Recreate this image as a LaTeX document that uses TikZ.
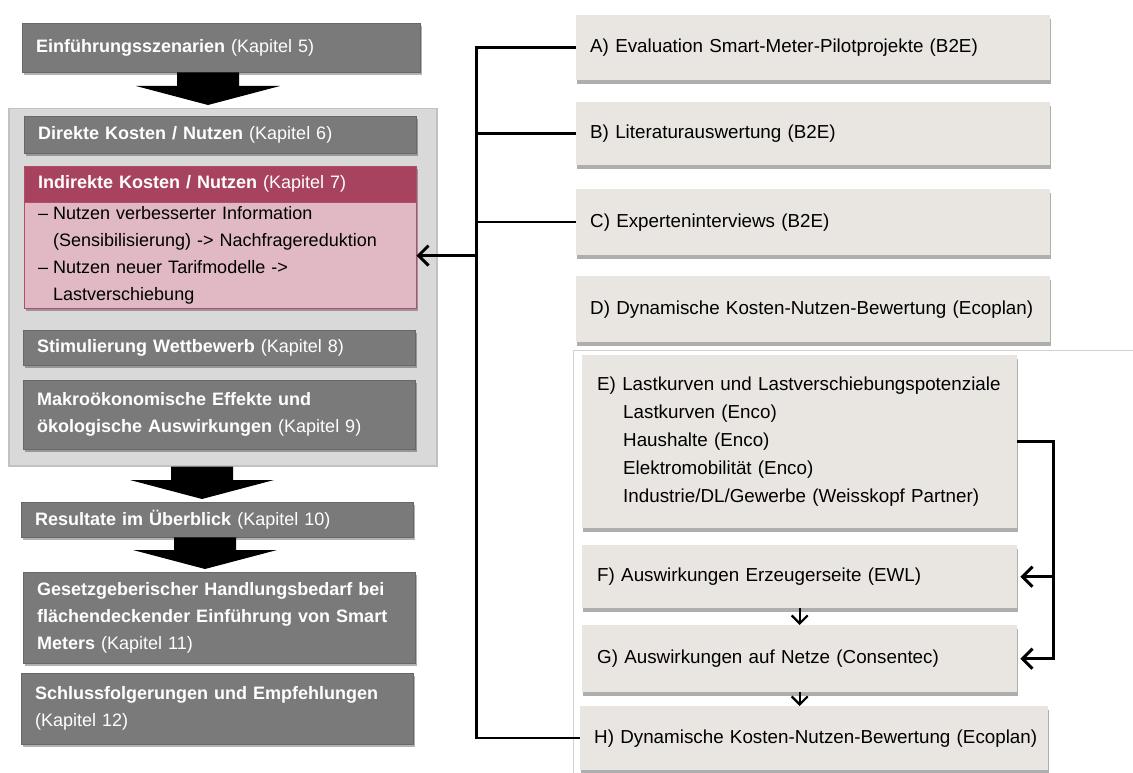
\documentclass[tikz,border=0pt]{standalone}
\usepackage{fontspec}
\setmainfont{Liberation Sans}
\usepackage{xcolor}
\usetikzlibrary{arrows.meta,shadows,calc}
\definecolor{kapgray}{HTML}{7A7A7A}
\definecolor{grpfill}{HTML}{D9D9D9}
\definecolor{grpline}{HTML}{C2C2C2}
\definecolor{indhead}{HTML}{A8435F}
\definecolor{indbody}{HTML}{E0B9C5}
\definecolor{indline}{HTML}{B24E6A}
\definecolor{partfill}{HTML}{E9E6E1}
\definecolor{frameline}{HTML}{D2D2D2}
\def \kap #1{{\mdseries(Kapitel #1)}}
\def \lfont {\fontsize{18}{27}\selectfont}
\def \rfont {\fontsize{18.8}{28}\selectfont}
\def \bigarrow #1#2#3{\fill [bigarrow] let \p1=(#2.south), \p2=(#3.north) in
 (#1pt-31pt,\y1) -- (#1pt+31pt,\y1) -- (#1pt+31pt,\y2+22pt) -- (#1pt+72pt,\y2+22pt)
 -- (#1pt,\y2+3pt) -- (#1pt-72pt,\y2+22pt) -- (#1pt-31pt,\y2+22pt) -- cycle;}

\begin{document}
\begin{tikzpicture}[x=1pt,y=-1pt]
\tikzstyle{kap}=[fill=kapgray, draw=kapgray!85!black, text=white, font=\lfont\bfseries,
 anchor=north west, text width=364pt, inner xsep=14pt, inner ysep=0pt, align=left,
 drop shadow={shadow xshift=1.5pt,shadow yshift=-2.5pt,fill=black,opacity=.3}];
\tikzstyle{group}=[fill=grpfill, draw=grpline, line width=1.5pt, anchor=north west];
\tikzstyle{part}=[fill=partfill, font=\rfont, anchor=north west, text width=446pt,
 inner xsep=14pt, inner ysep=0pt, align=left,
 drop shadow={shadow xshift=1pt,shadow yshift=-3.5pt,fill=black!45,opacity=.7}];
\tikzstyle{line}=[line width=2.5pt];
\tikzstyle{arrow}=[line width=3pt,-{Straight Barb[length=10pt,width=20pt]}];
\tikzstyle{small arrow}=[line width=2.2pt,-{Straight Barb[length=8pt,width=16pt]}];
\tikzstyle{bigarrow}=[fill=black];

\useasboundingbox (0,0) rectangle (1133,773);
\draw [frameline, line width=1pt] (573,773) |- (1133,350);

% Kapitel
\node (1) [kap, text width=370pt, minimum height=49pt] at (22,23) {Einführungsszenarien \kap{5}};
\node (grp) [group, minimum width=428pt, minimum height=357pt] at (8,108) {};
\node (2) [kap, minimum height=37pt] at (24,116) {Direkte Kosten / Nutzen \kap{6}};
\node (3) [kap, fill=indhead, draw=indline, minimum height=36pt] at (24,166) {Indirekte Kosten / Nutzen \kap{7}};
\node (3t) [kap, fill=indbody, draw=indline, text=black, font=\lfont, minimum height=106pt, anchor=north] at (3.south)
 {\makebox[15pt][l]{–}Nutzen verbesserter Information\\\hspace*{15pt}(Sensibilisierung) -> Nachfragereduktion\\
  \makebox[15pt][l]{–}Nutzen neuer Tarifmodelle ->\\\hspace*{15pt}Lastverschiebung};
\node (4) [kap, minimum height=35pt] at (23,330) {Stimulierung Wettbewerb \kap{8}};
\node (5) [kap, minimum height=69pt] at (23,380) {Makroökonomische Effekte und\\ökologische Auswirkungen \kap{9}};
\node (6) [kap, minimum height=35pt] at (21,502) {Resultate im Überblick \kap{10}};
\node (7) [kap, minimum height=91pt] at (23,572) {Gesetzgeberischer Handlungsbedarf bei\\flächendeckender Einführung von Smart\\Meters \kap{11}};
\node (8) [kap, minimum height=71pt] at (21,673) {Schlussfolgerungen und Empfehlungen\\\kap{12}};

\bigarrow{208}{1}{grp}
\bigarrow{202}{grp}{6}
\bigarrow{205}{6}{7}

% Arbeitspakete
\node (A) [part, minimum height=65pt] at (576,15) {A) Evaluation Smart-Meter-Pilotprojekte (B2E)};
\node (B) [part, minimum height=63pt] at (576,102) {B) Literaturauswertung (B2E)};
\node (C) [part, minimum height=66pt] at (576,189) {C) Experteninterviews (B2E)};
\node (D) [part, minimum height=66pt] at (576,276) {D) Dynamische Kosten-Nutzen-Bewertung (Ecoplan)};
\node (E) [part, text width=405pt, inner xsep=15pt, minimum height=173pt] at (582,355)
 {E) Lastkurven und Lastverschiebungspotenziale\\\hspace*{26pt}Lastkurven (Enco)\\\hspace*{26pt}Haushalte (Enco)\\
  \hspace*{26pt}Elektromobilität (Enco)\\\hspace*{26pt}Industrie/DL/Gewerbe (Weisskopf Partner)};
\node (F) [part, text width=405pt, inner xsep=15pt, minimum height=63pt] at (582,545) {F) Auswirkungen Erzeugerseite (EWL)};
\node (G) [part, text width=405pt, inner xsep=15pt, minimum height=67pt] at (582,625) {G) Auswirkungen auf Netze (Consentec)};
\node (H) [part, text width=448pt, inner xsep=10pt, minimum height=64pt] at (580,706) {\hspace*{4pt}H) Dynamische Kosten-Nutzen-Bewertung (Ecoplan)};

\path (3t.east) ++(60,0) coordinate (bus);
\draw [line] (A.west) -- (A.west -| bus) -- (H.west -| bus) -- (H.west);
\draw [line] (B.west) -- (B.west -| bus);
\draw [line] (C.west) -- (C.west -| bus);
\draw [arrow] (bus) -- (3t.east);

\path (E.east) ++(36,0) coordinate (ebr);
\draw [arrow, shorten >=3pt] (E.east) -- (ebr) |- (G.east);
\draw [arrow, shorten >=3pt] (ebr |- F.east) -- (F.east);
\draw [small arrow] (F.south) -- (G.north);
\draw [small arrow] (G.south) -- (G.south |- H.north);
\end{tikzpicture}
\end{document}
